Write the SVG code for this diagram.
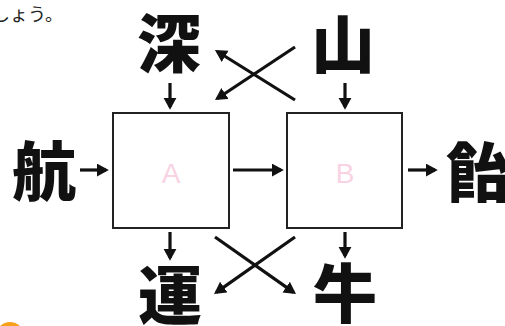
<svg xmlns="http://www.w3.org/2000/svg" width="505" height="326" viewBox="0 0 505 326">
<defs>
<style>
.k{font-family:"Noto Sans CJK JP","Noto Sans CJK SC",sans-serif;font-weight:900;font-size:64px;fill:#111;text-anchor:middle}
.box{fill:#fff;stroke:#222;stroke-width:2}
.lbl{font-family:"Liberation Sans",Arial,sans-serif;font-size:28px;fill:#f9d3e3;text-anchor:middle}
.ar{stroke:#111;stroke-width:3.2;fill:none;marker-end:url(#ah)}
</style>
<marker id="ah" markerUnits="userSpaceOnUse" markerWidth="14" markerHeight="14" refX="9.2" refY="6.5" orient="auto">
<path d="M0,0 L12,6.5 L0,13 z" fill="#111"/>
</marker>
</defs>
<rect width="505" height="326" fill="#fff"/>
<text x="-8" y="21" font-family="Noto Sans CJK JP, sans-serif" font-size="18" fill="#222">しょう。</text>
<circle cx="10" cy="336" r="14" fill="#f7a11a"/>
<g id="boxA"><rect class="box" x="113" y="113" width="116" height="115"/><text class="lbl" x="171" y="183">A</text></g>
<g id="boxB"><rect class="box" x="287" y="113" width="115" height="115"/><text class="lbl" x="345" y="183">B</text></g>
<g id="n-shin"><text class="k" x="169" y="67">深</text></g>
<g id="n-yama"><text class="k" x="343" y="68">山</text></g>
<g id="n-kou"><text class="k" x="44" y="195">航</text></g>
<g id="n-ame"><text class="k" x="478" y="196">飴</text></g>
<g id="n-un"><text class="k" x="170" y="319">運</text></g>
<g id="n-ushi"><text class="k" x="345" y="317">牛</text></g>
<g id="connectors">
<line class="ar" x1="170" y1="83" x2="170" y2="107"/>
<line class="ar" x1="345" y1="83" x2="345" y2="107"/>
<line class="ar" x1="170" y1="232" x2="170" y2="258"/>
<line class="ar" x1="345" y1="232" x2="345" y2="256"/>
<line class="ar" x1="80" y1="170" x2="106" y2="170"/>
<line class="ar" x1="233" y1="170" x2="281" y2="170"/>
<line class="ar" x1="408" y1="170" x2="435" y2="170"/>
<line class="ar" x1="295" y1="47" x2="217.3" y2="98.5"/>
<line class="ar" x1="295" y1="100" x2="217.3" y2="51.5"/>
<line class="ar" x1="215" y1="237" x2="293.7" y2="292.4"/>
<line class="ar" x1="295" y1="237" x2="216.3" y2="292.4"/>
</g>
</svg>
